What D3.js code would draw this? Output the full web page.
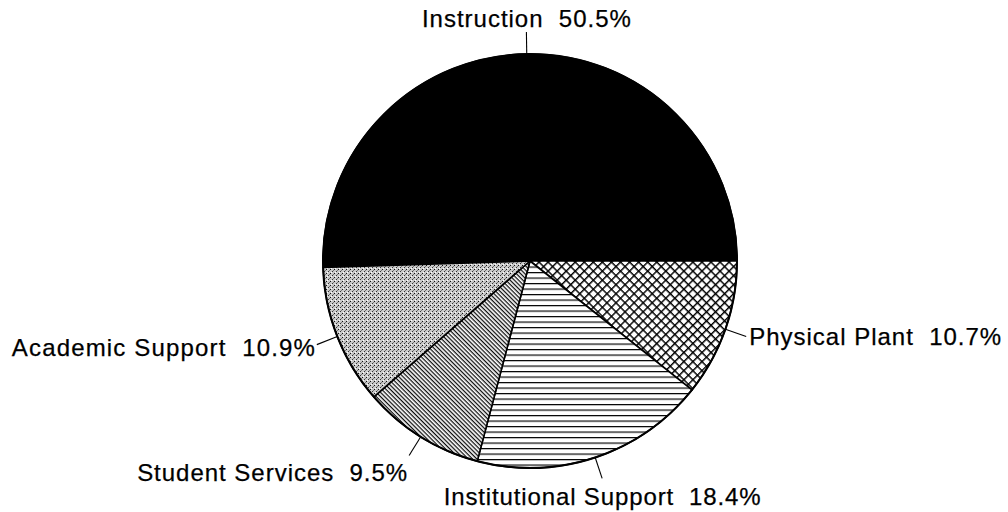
<!DOCTYPE html>
<html>
<head>
<meta charset="utf-8">
<script src="https://cdn.jsdelivr.net/npm/d3@7"></script>
<style>
  html, body { margin: 0; padding: 0; background: #ffffff; }
  svg { display: block; }
  text { font-family: "Liberation Sans", Arial, Helvetica, sans-serif; fill: #000; }
</style>
</head>
<body>
<svg id="chart" width="1008" height="512"></svg>
<script>
// ---- data ----
const categories = ["Instruction", "Physical Plant", "Institutional Support", "Student Services", "Academic Support"];
const values = [50.5, 10.7, 18.4, 9.5, 10.9];
const fills = ["solid", "crosshatch", "hlines", "diag", "stipple"];

// ---- layout (style only) ----
const W = 1008, H = 512;
const cx = 530, cy = 261, R = 207, leaderLen = 22;
const labelLayout = [
  { anchor: "middle", dx: 0,  dy: -5, width: 209 },
  { anchor: "start",  dx: 3,  dy: 8,  width: 252 },
  { anchor: "middle", dx: 0,  dy: 27, width: 317 },
  { anchor: "end",    dx: -2, dy: 26, width: 270 },
  { anchor: "end",    dx: -2, dy: 11, width: 303 }
];

const svg = d3.select("#chart");
const defs = svg.append("defs");

// crosshatch
const ch = defs.append("pattern").attr("id", "crosshatch").attr("patternUnits", "userSpaceOnUse")
  .attr("width", 6.4).attr("height", 6.4).attr("patternTransform", "rotate(45)");
ch.append("rect").attr("width", 6.4).attr("height", 6.4).attr("fill", "#fff");
ch.append("line").attr("x1", 0).attr("y1", 0.7).attr("x2", 6.4).attr("y2", 0.7).attr("stroke", "#000").attr("stroke-width", 1.5);
ch.append("line").attr("x1", 0.7).attr("y1", 0).attr("x2", 0.7).attr("y2", 6.4).attr("stroke", "#000").attr("stroke-width", 1.5);

// horizontal lines
const hl = defs.append("pattern").attr("id", "hlines").attr("patternUnits", "userSpaceOnUse")
  .attr("width", 10).attr("height", 5.5);
hl.append("rect").attr("width", 10).attr("height", 5.5).attr("fill", "#fff");
hl.append("line").attr("x1", 0).attr("y1", 0.6).attr("x2", 10).attr("y2", 0.6).attr("stroke", "#000").attr("stroke-width", 1.2);

// diagonal lines (\\)
const dg = defs.append("pattern").attr("id", "diag").attr("patternUnits", "userSpaceOnUse")
  .attr("width", 10).attr("height", 3).attr("patternTransform", "rotate(45)");
dg.append("rect").attr("width", 10).attr("height", 3).attr("fill", "#fff");
dg.append("line").attr("x1", 0).attr("y1", 0.65).attr("x2", 10).attr("y2", 0.65).attr("stroke", "#000").attr("stroke-width", 1.2);

// stipple
const st = defs.append("pattern").attr("id", "stipple").attr("patternUnits", "userSpaceOnUse")
  .attr("width", 4).attr("height", 4);
st.append("rect").attr("width", 4).attr("height", 4).attr("fill", "#c9c9c9");
st.append("rect").attr("x", 0).attr("y", 0).attr("width", 1).attr("height", 1).attr("fill", "#111");
st.append("rect").attr("x", 2).attr("y", 2).attr("width", 1).attr("height", 1).attr("fill", "#333");
st.append("rect").attr("x", 3).attr("y", 1).attr("width", 1).attr("height", 1).attr("fill", "#777");
st.append("rect").attr("x", 1).attr("y", 3).attr("width", 1).attr("height", 1).attr("fill", "#fff");

const fillOf = f => f === "solid" ? "#000" : `url(#${f})`;

const total = d3.sum(values);
const start = Math.PI / 2 - 2 * Math.PI * values[0] / total;
const pie = d3.pie().sort(null).value(d => d.value).startAngle(start).endAngle(start + 2 * Math.PI);
const data = categories.map((c, i) => ({ name: c, value: values[i], fill: fills[i], i }));
const arcs = pie(data);
const arc = d3.arc().innerRadius(0).outerRadius(R);

const g = svg.append("g").attr("transform", `translate(${cx},${cy})`);
g.selectAll("path.slice").data(arcs).join("path")
  .attr("class", "slice")
  .attr("d", arc)
  .attr("fill", d => fillOf(d.data.fill))
  .attr("stroke", "#000").attr("stroke-width", 1.6).attr("stroke-linejoin", "round");

g.append("circle").attr("r", R).attr("fill", "none").attr("stroke", "#000").attr("stroke-width", 2);

// leaders + labels
arcs.forEach(d => {
  const a = (d.startAngle + d.endAngle) / 2;
  const x0 = R * Math.sin(a), y0 = -R * Math.cos(a);
  const x1 = (R + leaderLen) * Math.sin(a), y1 = -(R + leaderLen) * Math.cos(a);
  g.append("line").attr("x1", x0).attr("y1", y0).attr("x2", x1).attr("y2", y1)
    .attr("stroke", "#000").attr("stroke-width", 1.1);
  const L = labelLayout[d.data.i];
  g.append("text")
    .attr("x", x1 + L.dx).attr("y", y1 + L.dy)
    .attr("text-anchor", L.anchor)
    .attr("font-size", 24)
    .attr("stroke", "#000").attr("stroke-width", 0.25)
    .attr("textLength", L.width).attr("lengthAdjust", "spacing")
    .style("white-space", "pre")
    .text(`${d.data.name}  ${d3.format(".1f")(d.data.value)}%`);
});
</script>
</body>
</html>
